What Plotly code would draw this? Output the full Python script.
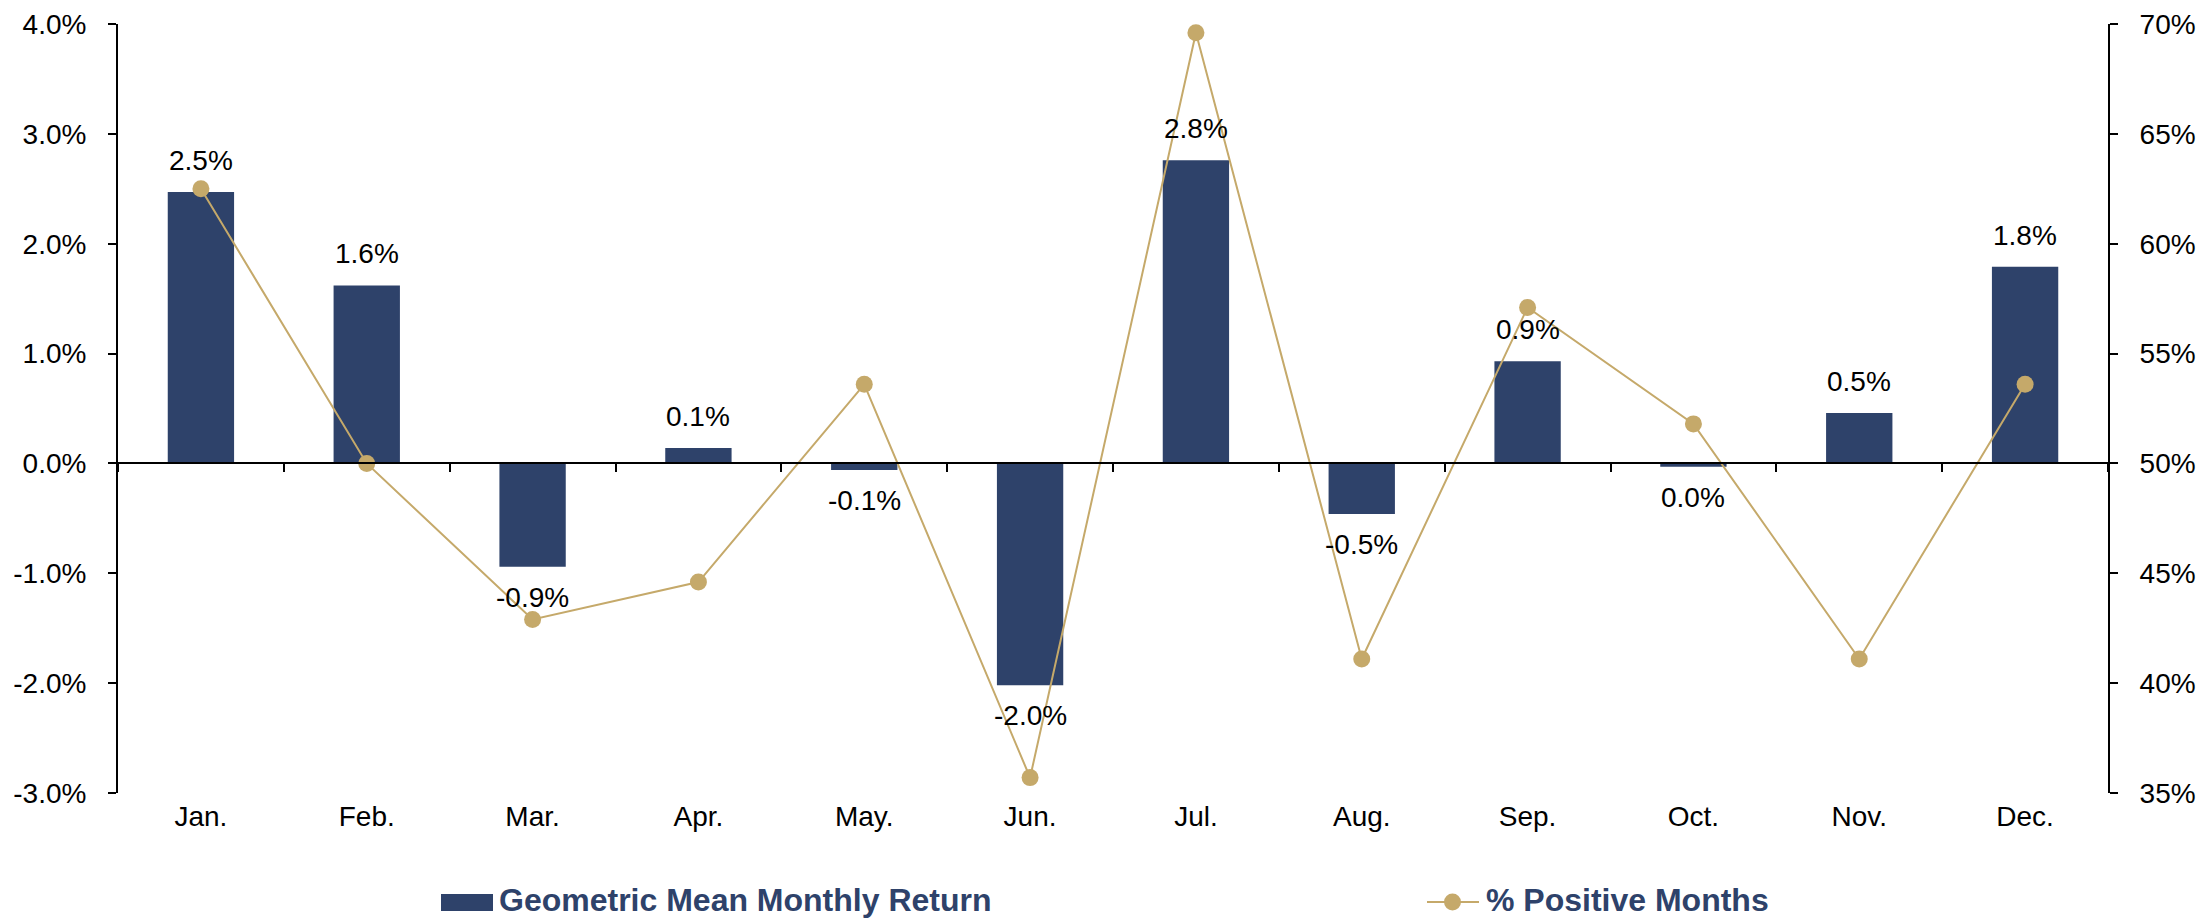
import plotly.graph_objects as go

months = ["Jan.", "Feb.", "Mar.", "Apr.", "May.", "Jun.", "Jul.", "Aug.", "Sep.", "Oct.", "Nov.", "Dec."]
geo_mean_return = [2.47, 1.62, -0.94, 0.14, -0.06, -2.02, 2.76, -0.46, 0.93, -0.03, 0.46, 1.79]
pct_positive = [62.5, 50.0, 42.9, 44.6, 53.6, 35.7, 69.6, 41.1, 57.1, 51.8, 41.1, 53.6]
left_ticks = [-3, -2, -1, 0, 1, 2, 3, 4]
right_ticks = [35, 40, 45, 50, 55, 60, 65, 70]

bar_name = "Geometric Mean Monthly Return"
line_name = "% Positive Months"

NAVY = "#2E426A"
GOLD = "#C5A96A"
FONT = "Liberation Sans, Arial, sans-serif"

bar_text = [f"{round(v, 1) + 0.0:.1f}%" for v in geo_mean_return]

fig = go.Figure()
fig.add_trace(go.Bar(
    x=months, y=geo_mean_return, name=bar_name,
    marker=dict(color=NAVY, line=dict(width=0)),
    showlegend=False, hoverinfo="skip",
    xaxis="x", yaxis="y",
))
fig.add_trace(go.Scatter(
    x=months, y=pct_positive, name=line_name, mode="lines+markers",
    line=dict(color=GOLD, width=2),
    marker=dict(color=GOLD, size=17),
    cliponaxis=False, showlegend=False,
    xaxis="x2", yaxis="y2",
))

# Data labels above positive bars, below negative bars
for m, v, t in zip(months, geo_mean_return, bar_text):
    pos = v >= 0
    fig.add_annotation(
        x=m, y=v, xref="x", yref="y", text=t, showarrow=False,
        yanchor="bottom" if pos else "top",
        yshift=14 if pos else -13,
        font=dict(family=FONT, size=28, color="black"),
    )

axis_font = dict(family=FONT, size=28, color="black")

fig.update_layout(
    width=2198, height=920,
    margin=dict(l=118, r=90, t=24, b=127, autoexpand=False),
    paper_bgcolor="white", plot_bgcolor="white",
    bargap=0.6,
    showlegend=False,
    font=dict(family=FONT),
    xaxis=dict(
        type="category", categoryorder="array", categoryarray=months,
        range=[-0.5, 11.5], automargin=False,
        showline=False, showgrid=False, zeroline=False,
        ticks="", tickfont=axis_font, ticklabelstandoff=4,
    ),
    xaxis2=dict(
        type="category", categoryorder="array", categoryarray=months,
        range=[-0.5, 11.5], automargin=False,
        overlaying="x", anchor="free", position=3 / 7,
        showline=True, linecolor="black", linewidth=2,
        showgrid=False, zeroline=False,
        ticks="outside", tickson="boundaries", ticklen=8, tickwidth=2, tickcolor="black",
        showticklabels=False,
    ),
    yaxis=dict(
        range=[-3, 4], tickvals=left_ticks, automargin=False,
        ticktext=[f"{v:.1f}%" for v in left_ticks],
        showline=True, linecolor="black", linewidth=2,
        showgrid=False, zeroline=False,
        ticks="outside", ticklen=8, tickwidth=2, tickcolor="black",
        tickfont=axis_font, ticklabelstandoff=16,
    ),
    yaxis2=dict(
        range=[35, 70], tickvals=right_ticks, automargin=False,
        ticktext=[f"{v}%" for v in right_ticks],
        overlaying="y", side="right", anchor="x",
        showline=True, linecolor="black", linewidth=2,
        showgrid=False, zeroline=False,
        ticks="outside", ticklen=8, tickwidth=2, tickcolor="black",
        tickfont=axis_font, ticklabelstandoff=16,
    ),
)

# Manual legend below the plot (paper coordinates)
plot_w = 2198 - 118 - 90
plot_h = 920 - 24 - 127
def px(xp):
    return (xp - 118) / plot_w
def py(yp):
    return (920 - 127 - yp) / plot_h

legend_font = dict(family=FONT, size=32, color=NAVY, weight="bold")

fig.add_shape(type="rect", xref="paper", yref="paper",
              x0=px(441), x1=px(493), y0=py(911), y1=py(894),
              fillcolor=NAVY, line=dict(width=0))
fig.add_annotation(xref="paper", yref="paper", x=px(497), y=py(900),
                   text=bar_name, showarrow=False, xanchor="left", yanchor="middle",
                   font=legend_font)

fig.add_shape(type="line", xref="paper", yref="paper",
              x0=px(1427), x1=px(1479), y0=py(902), y1=py(902),
              line=dict(color=GOLD, width=2))
fig.add_shape(type="circle", xref="paper", yref="paper",
              x0=px(1444), x1=px(1461), y0=py(910.5), y1=py(893.5),
              fillcolor=GOLD, line=dict(width=0))
fig.add_annotation(xref="paper", yref="paper", x=px(1484), y=py(900),
                   text=line_name, showarrow=False, xanchor="left", yanchor="middle",
                   font=legend_font)

fig.write_html(
    "out.html",
    config={"displayModeBar": False},
    post_script="document.body.style.margin='0';document.body.style.overflow='hidden';",
)
